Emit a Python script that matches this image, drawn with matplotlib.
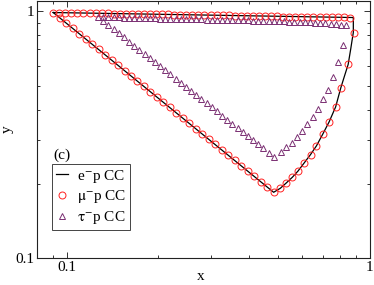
import matplotlib
matplotlib.use("Agg")
import matplotlib.pyplot as plt
from matplotlib.ticker import LogLocator, NullFormatter, FixedLocator, FixedFormatter

plt.rcParams['font.family'] = ['Liberation Serif', 'DejaVu Serif']
plt.rcParams['mathtext.fontset'] = 'stix'

# e- p CC : boundary line (top edge, right edge, lower diagonal)
ep_x = [0.0903, 0.883, 0.883, 0.875, 0.866, 0.849, 0.825, 0.803, 0.772, 0.735,
        0.699, 0.667, 0.638, 0.606, 0.580, 0.556, 0.531, 0.507, 0.482, 0.0903]
ep_y = [0.988, 0.943, 0.820, 0.765, 0.705, 0.609, 0.545, 0.490, 0.410, 0.357,
        0.317, 0.285, 0.263, 0.242, 0.2255, 0.213, 0.202, 0.192, 0.185, 0.988]

# mu- p CC : markers along the top edge
mu_top_x = [0.0903, 0.0945, 0.0990, 0.1036, 0.1085, 0.1136, 0.1190, 0.1246, 0.1304, 0.1366,
            0.1430, 0.1497, 0.1567, 0.1641, 0.1719, 0.1799, 0.1884, 0.1973, 0.2066, 0.2163,
            0.2265, 0.2371, 0.2483, 0.2600, 0.2722, 0.2850, 0.2984, 0.3125, 0.3272, 0.3425,
            0.3587, 0.3755, 0.3932, 0.4117, 0.4311, 0.4514, 0.4726, 0.4949, 0.5182, 0.5426,
            0.5681, 0.5948, 0.6228, 0.6522, 0.6829, 0.7150, 0.7486, 0.7838, 0.8207, 0.8592]
mu_top_y = [0.988, 0.987, 0.986, 0.985, 0.984, 0.983, 0.982, 0.981, 0.981, 0.980,
            0.979, 0.978, 0.977, 0.976, 0.975, 0.974, 0.973, 0.972, 0.971, 0.970,
            0.969, 0.968, 0.967, 0.966, 0.966, 0.965, 0.964, 0.963, 0.962, 0.961,
            0.960, 0.959, 0.958, 0.957, 0.956, 0.955, 0.954, 0.953, 0.952, 0.952,
            0.951, 0.950, 0.949, 0.948, 0.947, 0.946, 0.945, 0.945, 0.944, 0.943]

# mu- p CC : markers along the lower diagonal
mu_diag_x = [0.0903, 0.0948, 0.0996, 0.1046, 0.1100, 0.1155, 0.1213, 0.1274, 0.1338, 0.1406,
             0.1477, 0.1552, 0.1631, 0.1713, 0.1799, 0.1890, 0.1985, 0.2085, 0.2191, 0.2301,
             0.2417, 0.2540, 0.2668, 0.2803, 0.2944, 0.3093, 0.3249, 0.3413, 0.3585, 0.3766,
             0.3957, 0.4157, 0.4367, 0.4587, 0.4818]
mu_diag_y = [0.989, 0.942, 0.897, 0.854, 0.812, 0.773, 0.736, 0.701, 0.667, 0.635,
             0.605, 0.575, 0.548, 0.521, 0.496, 0.472, 0.450, 0.428, 0.408, 0.388,
             0.369, 0.352, 0.335, 0.319, 0.303, 0.289, 0.275, 0.262, 0.249, 0.237,
             0.226, 0.215, 0.204, 0.195, 0.185]

# mu- p CC : markers along the right edge
mu_right_x = [0.507, 0.531, 0.556, 0.580, 0.606, 0.638, 0.667, 0.699, 0.735, 0.772,
              0.803, 0.849, 0.885]
mu_right_y = [0.192, 0.202, 0.213, 0.2255, 0.242, 0.263, 0.285, 0.317, 0.357, 0.410,
              0.490, 0.609, 0.820]

# tau- p CC : top edge
tau_top_x = [0.1271, 0.1321, 0.1374, 0.1429, 0.1487, 0.1546, 0.1608, 0.1672, 0.1739, 0.1809,
             0.1881, 0.1956, 0.2035, 0.2116, 0.2201, 0.2289, 0.2380, 0.2476, 0.2575, 0.2678,
             0.2785, 0.2896, 0.3012, 0.3133, 0.3258, 0.3388, 0.3524, 0.3665, 0.3811, 0.3964,
             0.4122, 0.4287, 0.4459, 0.4637, 0.4824, 0.5017, 0.5217, 0.5426, 0.5643, 0.5870,
             0.6104, 0.6348, 0.6603, 0.6867, 0.7142, 0.7427, 0.7724, 0.8033, 0.8354]
tau_top_y = [0.948, 0.947, 0.946, 0.945, 0.944, 0.943, 0.941, 0.940, 0.939, 0.938,
             0.937, 0.935, 0.934, 0.933, 0.932, 0.931, 0.930, 0.929, 0.928, 0.927,
             0.926, 0.925, 0.924, 0.923, 0.922, 0.921, 0.921, 0.920, 0.919, 0.918,
             0.917, 0.916, 0.915, 0.914, 0.912, 0.911, 0.909, 0.908, 0.906, 0.904,
             0.903, 0.901, 0.900, 0.898, 0.894, 0.889, 0.885, 0.881, 0.878]

# tau- p CC : lower diagonal
tau_diag_x = [0.1321, 0.1374, 0.1429, 0.1487, 0.1546, 0.1608, 0.1672, 0.1739, 0.1809,
              0.1881, 0.1956, 0.2035, 0.2116, 0.2201, 0.2289, 0.2380, 0.2476, 0.2575, 0.2678,
              0.2785, 0.2896, 0.3012, 0.3133, 0.3258, 0.3388, 0.3524, 0.3665, 0.3811, 0.3964,
              0.4122, 0.4287, 0.4459, 0.4637, 0.4824]
tau_diag_y = [0.912, 0.878, 0.845, 0.813, 0.783, 0.753, 0.725, 0.698, 0.672,
              0.646, 0.622, 0.599, 0.576, 0.555, 0.534, 0.514, 0.495, 0.476, 0.458,
              0.441, 0.424, 0.408, 0.393, 0.378, 0.364, 0.350, 0.337, 0.324, 0.312,
              0.301, 0.289, 0.279, 0.268, 0.258]

# tau- p CC : right edge
tau_right_x = [0.511, 0.531, 0.553, 0.576, 0.598, 0.621, 0.648, 0.673, 0.699, 0.729,
               0.758, 0.787, 0.818]
tau_right_y = [0.270, 0.283, 0.294, 0.310, 0.328, 0.348, 0.374, 0.403, 0.440, 0.482,
               0.542, 0.624, 0.733]

legend_labels = [r'e$^{-}$p CC', r'$\mathrm{\mu}^{-}$p CC', r'$\mathrm{\tau}^{-}$p CC']

fig = plt.figure(figsize=(3.74, 2.85), dpi=100)
ax = fig.add_axes([0.0997, 0.0937, 0.8888, 0.9028])

red = '#ff2020'
purple = '#7a2e72'

ax.plot(ep_x, ep_y, color='black', lw=0.9, label=legend_labels[0])
mu_x = mu_top_x + mu_diag_x[1:] + mu_right_x
mu_y = mu_top_y + mu_diag_y[1:] + mu_right_y
ax.plot(mu_x, mu_y, ls='none', marker='o', ms=5.0, mfc='none', mec=red, mew=0.7,
        label=legend_labels[1])
tau_x = tau_top_x + tau_diag_x + tau_right_x
tau_y = tau_top_y + tau_diag_y + tau_right_y
ax.plot(tau_x, tau_y, ls='none', marker='^', ms=4.6, mfc='none', mec=purple, mew=0.7,
        label=legend_labels[2])

ax.set_xscale('log')
ax.set_yscale('log')
ax.set_xlim(0.08, 1.0)
ax.set_ylim(0.1, 1.1)

ax.xaxis.set_major_locator(FixedLocator([0.1, 1]))
ax.xaxis.set_major_formatter(FixedFormatter(['0.1', '1']))
ax.yaxis.set_major_locator(FixedLocator([0.1, 1]))
ax.yaxis.set_major_formatter(FixedFormatter(['0.1', '1']))
ax.xaxis.set_minor_locator(LogLocator(base=10, subs=range(2, 10)))
ax.yaxis.set_minor_locator(LogLocator(base=10, subs=range(2, 10)))
ax.xaxis.set_minor_formatter(NullFormatter())
ax.yaxis.set_minor_formatter(NullFormatter())

ax.tick_params(which='both', direction='in', top=True, right=True, labelsize=11,
               width=0.7, color='#333333')
ax.tick_params(which='major', length=4.5, pad=2)
ax.tick_params(which='minor', length=2.3)
for s in ax.spines.values():
    s.set_linewidth(0.8)
    s.set_color('#222222')

ax.set_xlabel('x', fontsize=11)
ax.set_ylabel('y', fontsize=11)
ax.xaxis.set_label_coords(0.492, -0.045)
ax.yaxis.set_label_coords(-0.072, 0.5)

ax.text(0.047, 0.385, '(c)', transform=ax.transAxes, fontsize=11)
leg = ax.legend(loc='lower left', bbox_to_anchor=(0.044, 0.11), borderaxespad=0,
                fontsize=11, handlelength=0.8, handletextpad=0.6, labelspacing=0.25,
                borderpad=0.25, fancybox=False, framealpha=1, edgecolor='#444444')
leg.get_frame().set_linewidth(0.7)

fig.savefig('out.png', dpi=100)
